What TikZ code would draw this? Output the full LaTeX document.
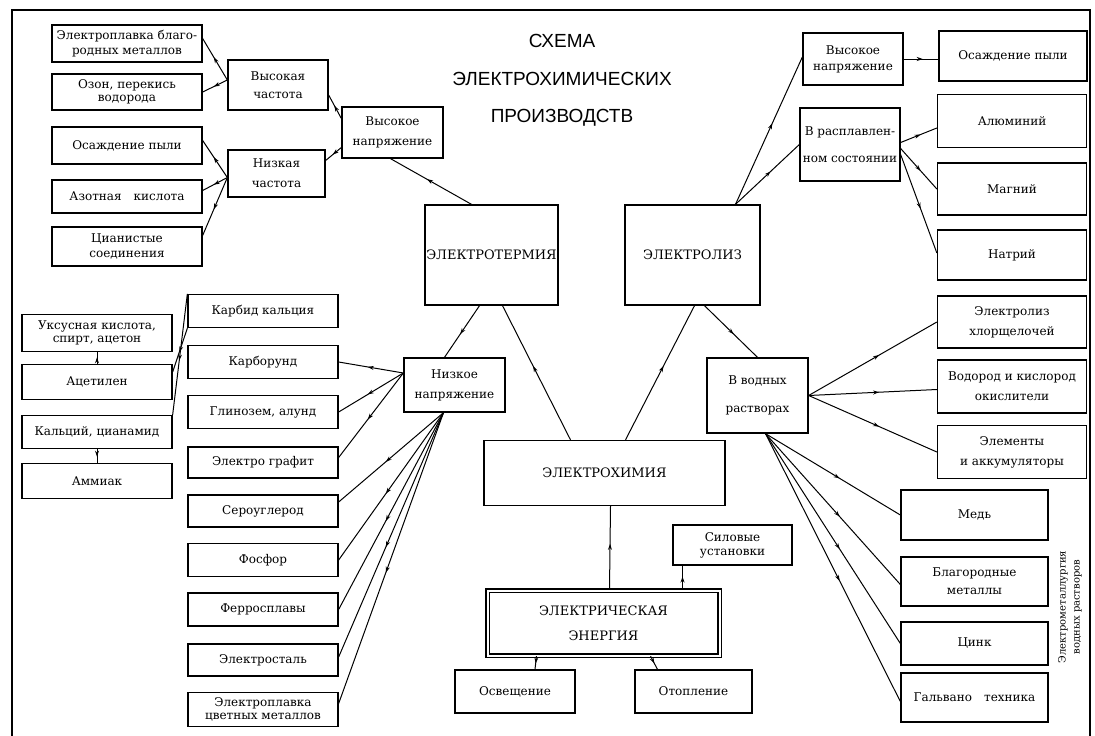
\documentclass[tikz,border=0pt]{standalone}
\usepackage{fontspec}
\setmainfont{DejaVu Serif}
\newfontfamily\ttlfont{Liberation Sans}
\usetikzlibrary{arrows.meta,decorations.markings}

\tikzset{
  box/.style={draw, line width=1.3pt, inner sep=1pt, align=center, font=\fontsize{12}{15}\selectfont},
  bigbox/.style={box, font=\fontsize{13}{26}\selectfont},
  wh/.style 2 args={minimum width=#1, minimum height=#2},
  sp/.style={font=\fontsize{12}{#1}\selectfont},
  arr/.style={line width=1pt, postaction={decorate},
    decoration={markings, mark=at position 0.55 with {\arrow{Stealth[length=6pt,width=4pt]}}}},
}

\begin{document}
\begin{tikzpicture}[x=1pt,y=-1pt]
\useasboundingbox (0,0) rectangle (1095,736);
\draw[line width=2pt] (12,736) -- (12,10) -- (1090,10) -- (1090,736);

\node[box, wh={150}{37}] (ep1) at (127,43.5) {Электроплавка благо-\\родных металлов};
\node[box, wh={150}{36}, sp=13] (ozon) at (127,92) {Озон, перекись\\водорода};
\node[box, wh={150}{37}] (osp1) at (127,145.5) {Осаждение пыли};
\node[box, wh={150}{33}] (azot) at (127,196.5) {Азотная\quad кислота};
\node[box, wh={150}{39}] (cian) at (127,246.5) {Цианистые\\соединения};
\node[box, wh={100}{50}, sp=18] (vch) at (278,85) {Высокая\\частота};
\node[box, wh={97}{47}, sp=20] (nch) at (276.5,173.5) {Низкая\\частота};
\node[box, wh={101}{51}, sp=20] (vn1) at (392.5,132.5) {Высокое\\напряжение};

\node[align=center, font=\ttlfont\fontsize{19}{37.5}\selectfont] (ttl) at (562,80.5) {СХЕМА\\ЭЛЕКТРОХИМИЧЕСКИХ\\ПРОИЗВОДСТВ};

\node[bigbox, wh={133}{100}] (term) at (491.5,255) {ЭЛЕКТРОТЕРМИЯ};
\node[bigbox, wh={135}{100}] (liz) at (692.5,255) {ЭЛЕКТРОЛИЗ};

\node[box, wh={100}{52}, sp=16] (vn2) at (853,59) {Высокое\\напряжение};
\node[box, wh={148}{50}] (osp2) at (1013,56) {Осаждение пыли};
\node[box, wh={100}{73}, sp=27] (rasp) at (850,144.5) {В расплавлен-\\ном состоянии};
\node[box, wh={149}{53}] (alu) at (1012,121) {Алюминий};
\node[box, wh={149}{52}] (mag) at (1012,189) {Магний};
\node[box, wh={149}{50}] (natr) at (1012,255) {Натрий};
\node[box, wh={149}{52}, sp=20] (hlor) at (1012,322) {Электролиз\\хлорщелочей};
\node[box, wh={149}{53}, sp=20] (vodor) at (1012,386.5) {Водород и кислород\\окислители};
\node[box, wh={149}{53}, sp=20] (elem) at (1012,452) {Элементы\\и аккумуляторы};
\node[box, wh={101}{75}, sp=28] (vodn) at (757.5,395.5) {В водных\\растворах};
\node[box, wh={147}{50}] (med) at (974.5,515) {Медь};
\node[box, wh={147}{49}, sp=18] (blag) at (974.5,581.5) {Благородные\\металлы};
\node[box, wh={147}{43}] (cink) at (974.5,643.5) {Цинк};
\node[box, wh={147}{49}] (galv) at (974.5,697.5) {Гальвано\quad техника};
\node[rotate=90, align=center, font=\fontsize{10}{14}\selectfont] (vert) at (1070,607) {Электрометаллургия\\водных растворов};

\node[bigbox, wh={241}{65}] (him) at (604.5,473) {ЭЛЕКТРОХИМИЯ};
\node[box, wh={119}{40}, sp=14] (sil) at (732.5,545) {Силовые\\установки};
\node[bigbox, double, double distance=2pt, wh={232}{65}, font=\fontsize{13}{25}\selectfont] (en) at (603.5,623) {ЭЛЕКТРИЧЕСКАЯ\\ЭНЕРГИЯ};
\node[box, wh={120}{43}] (osv) at (515,691.5) {Освещение};
\node[box, wh={117}{43}] (otop) at (693.5,691.5) {Отопление};

\node[box, wh={101}{54}, sp=20] (nizn) at (454.5,385) {Низкое\\напряжение};
\node[box, wh={150}{33}] (karbid) at (263,311) {Карбид кальция};
\node[box, wh={150}{33}] (karbor) at (263,362) {Карборунд};
\node[box, wh={150}{33}] (glin) at (263,412) {Глинозем, алунд};
\node[box, wh={150}{31}] (grafit) at (263,462.5) {Электро графит};
\node[box, wh={150}{32}] (serou) at (263,511) {Сероуглерод};
\node[box, wh={150}{33}] (fosf) at (263,560) {Фосфор};
\node[box, wh={150}{33}] (ferro) at (263,609.5) {Ферросплавы};
\node[box, wh={150}{32}] (stal) at (263,660) {Электросталь};
\node[box, wh={150}{34}, sp=13] (cvet) at (263,709.5) {Электроплавка\\цветных металлов};
\node[box, wh={150}{37}, sp=13] (uks) at (97,333) {Уксусная кислота,\\спирт, ацетон};
\node[box, wh={150}{35}] (acet) at (97,382) {Ацетилен};
\node[box, wh={150}{33}] (kalc) at (97,432) {Кальций, цианамид};
\node[box, wh={150}{35}] (amm) at (97,481) {Аммиак};

\draw[arr] ([xshift=6pt]en.north) -- ([xshift=6pt]him.south);
\draw[arr] ([xshift=79pt]en.north) -- ([xshift=-50pt]sil.south);
\draw[arr] ([xshift=-67pt]en.south) -- ([xshift=20pt]osv.north);
\draw[arr] ([xshift=47pt]en.south) -- ([xshift=-36pt]otop.north);
\draw[arr] ([xshift=-34pt]him.north) -- ([xshift=11pt]term.south);
\draw[arr] ([xshift=21pt]him.north) -- ([xshift=2pt]liz.south);
\draw[arr] ([xshift=-12pt]term.south) -- ([xshift=-10pt]nizn.north);
\draw[arr] ([xshift=-20pt]term.north) -- ([xshift=-2pt]vn1.south);
\draw[arr] ([xshift=43pt]liz.north) -- ([yshift=2pt]vn2.west);
\draw[arr] ([xshift=43pt]liz.north) -- (rasp.west);
\draw[arr] ([xshift=12pt]liz.south) -- (vodn.north);
\draw[arr] (vn2.east) -- (osp2.west |- vn2.east);
\draw[arr] ([yshift=2pt]rasp.east) -- ([yshift=-7pt]alu.west);
\draw[arr] ([yshift=-4pt]rasp.east) -- (mag.west);
\draw[arr] ([yshift=-10pt]rasp.east) -- ([yshift=2pt]natr.west);
\draw[arr] (vodn.east) -- (hlor.west);
\draw[arr] (vodn.east) -- ([yshift=-3pt]vodor.west);
\draw[arr] (vodn.east) -- (elem.west);
\draw[arr] ([xshift=8pt]vodn.south) -- (med.west);
\draw[arr] ([xshift=8pt]vodn.south) -- ([yshift=-3pt]blag.west);
\draw[arr] ([xshift=8pt]vodn.south) -- (cink.west);
\draw[arr] ([xshift=8pt]vodn.south) -- ([yshift=-4pt]galv.west);

\draw[arr] ([yshift=14pt]vn1.west) -- ([yshift=-10pt]vch.east);
\draw[arr] ([yshift=-15pt]vn1.west) -- ([yshift=13pt]nch.east);
\draw[arr] ([yshift=5pt]vch.west) -- ([yshift=5pt]ep1.east);
\draw[arr] ([yshift=5pt]vch.west) -- (ozon.east);
\draw[arr] ([yshift=-4pt]nch.west) -- ([yshift=5pt]osp1.east);
\draw[arr] ([yshift=-4pt]nch.west) -- ([yshift=6pt]azot.east);
\draw[arr] ([yshift=-4pt]nch.west) -- ([yshift=11pt]cian.east);

\draw[arr] ([yshift=12pt]nizn.west) -- (karbor.east);
\draw[arr] ([yshift=12pt]nizn.west) -- (glin.east);
\draw[arr] ([yshift=12pt]nizn.west) -- ([yshift=5pt]grafit.east);
\draw[arr] ([xshift=-11pt]nizn.south) -- ([yshift=9pt]serou.east);
\draw[arr] ([xshift=-11pt]nizn.south) -- (fosf.east);
\draw[arr] ([xshift=-11pt]nizn.south) -- (ferro.east);
\draw[arr] ([xshift=-11pt]nizn.south) -- ([yshift=3pt]stal.east);
\draw[arr] ([xshift=-11pt]nizn.south) -- ([yshift=6pt]cvet.east);
\draw[arr] (karbid.north west) -- (kalc.north east);
\draw[arr] (karbid.south west) -- ([yshift=10pt]acet.east);
\draw[arr] (acet.north) -- (uks.south);
\draw[arr] (kalc.south) -- (amm.north);
\end{tikzpicture}
\end{document}
